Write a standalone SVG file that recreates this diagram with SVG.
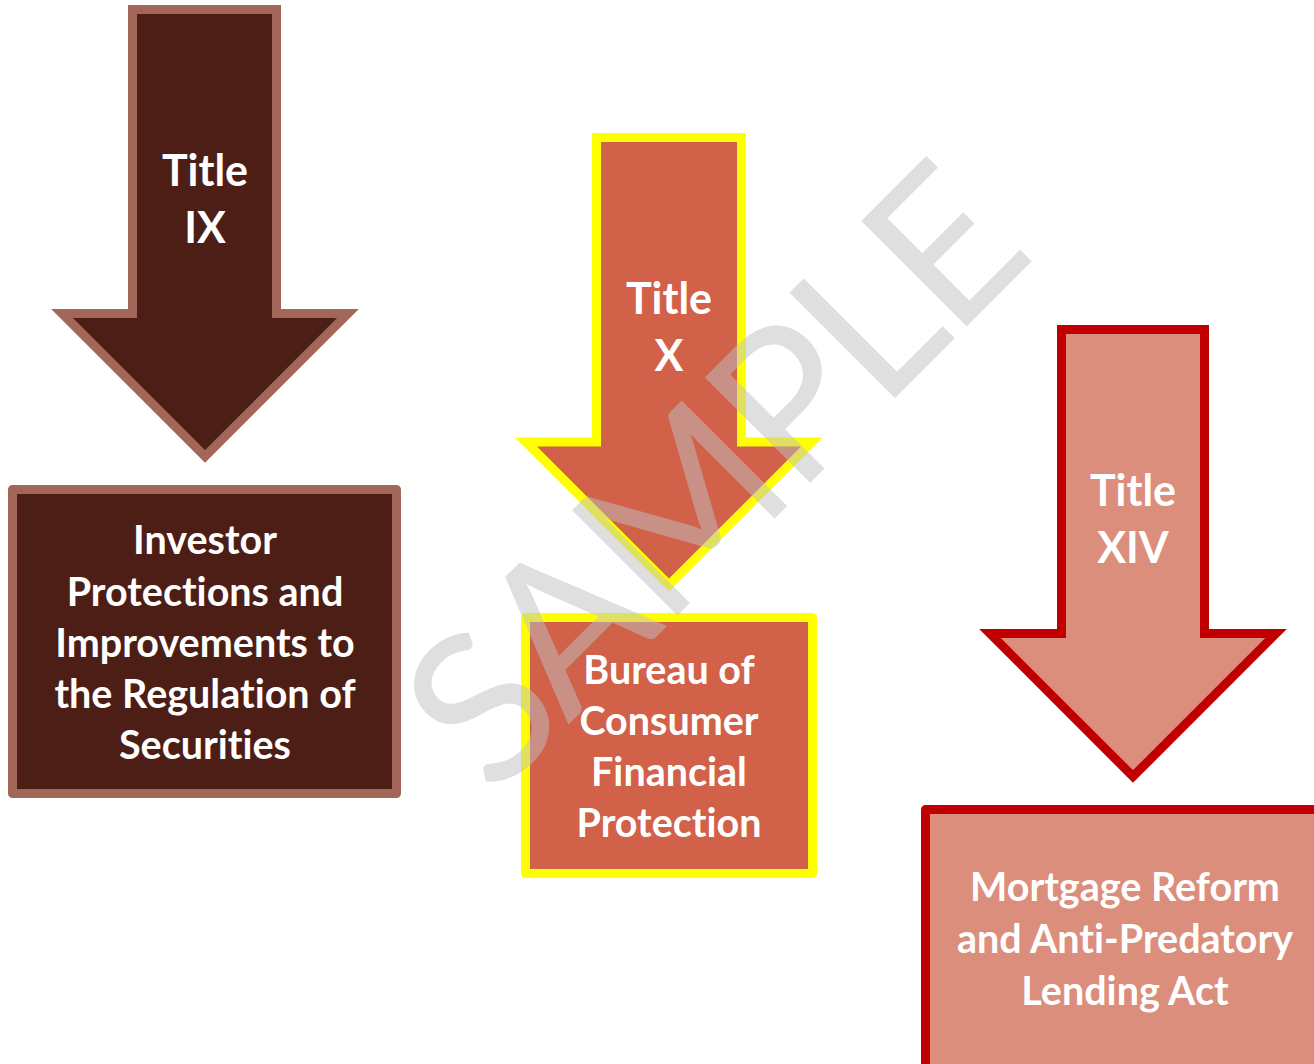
<svg xmlns="http://www.w3.org/2000/svg" width="1314" height="1064" viewBox="0 0 1314 1064">
<style>
  text { font-variant-ligatures: none; font-feature-settings: "liga" 0, "clig" 0; }
  .lbl { font-family: Lato, "Open Sans", "Liberation Sans", sans-serif; font-weight: 700; fill: #FFFFFF; text-anchor: middle; font-size: 39.5px; }
  .ttl { font-family: Lato, "Open Sans", "Liberation Sans", sans-serif; font-weight: 700; fill: #FFFFFF; text-anchor: middle; font-size: 43px; }
  .arrow { stroke-width: 9; stroke-linejoin: miter; }
  .box { stroke-width: 9; stroke-linejoin: round; }
  .brown { fill: #4C1E15; stroke: #A3675A; }
  .orange { fill: #D2614A; stroke: #FFFF00; }
  .pink { fill: #DC8E7C; stroke: #C00000; }
  .wm { font-family: Lato, "Open Sans", "Liberation Sans", sans-serif; font-weight: 400; fill: #C0C0C0; fill-opacity: 0.5; text-anchor: middle; font-size: 208px; }
</style>
<rect width="1314" height="1064" fill="#FFFFFF"/>
<g id="connectors"/>
<g id="arrow-title-ix">
  <polygon class="arrow brown" points="132.5,9.5 276.5,9.5 276.5,313.5 348,313.5 205,456.5 62,313.5 132.5,313.5"/>
  <text class="ttl" x="205" y="186">Title</text>
  <text class="ttl" x="205" y="243">IX</text>
</g>
<g id="box-ix">
  <rect class="box brown" x="12.5" y="489.5" width="384" height="304"/>
  <text class="lbl" x="205" y="554">Investor</text>
  <text class="lbl" x="205" y="605.5">Protections and</text>
  <text class="lbl" x="205" y="657">Improvements to</text>
  <text class="lbl" x="205" y="708">the Regulation of</text>
  <text class="lbl" x="205" y="759">Securities</text>
</g>
<g id="arrow-title-x">
  <polygon class="arrow orange" points="596.5,137.5 741.5,137.5 741.5,442 812,442 669,585 526,442 596.5,442"/>
  <text class="ttl" x="669" y="314">Title</text>
  <text class="ttl" x="669" y="371">X</text>
</g>
<g id="box-x">
  <rect class="box orange" x="525.5" y="617.5" width="287" height="256"/>
  <text class="lbl" x="669" y="684">Bureau of</text>
  <text class="lbl" x="669" y="735">Consumer</text>
  <text class="lbl" x="669" y="786">Financial</text>
  <text class="lbl" x="669" y="836.5">Protection</text>
</g>
<g id="arrow-title-xiv">
  <polygon class="arrow pink" points="1061.5,329.5 1204.5,329.5 1204.5,633.5 1276,633.5 1133,776.5 990,633.5 1061.5,633.5"/>
  <text class="ttl" x="1133" y="506">Title</text>
  <text class="ttl" x="1133" y="563">XIV</text>
</g>
<g id="box-xiv">
  <rect class="box pink" x="925.5" y="809.5" width="408" height="300"/>
  <text class="lbl" x="1125" y="901">Mortgage Reform</text>
  <text class="lbl" x="1125" y="953">and Anti-Predatory</text>
  <text class="lbl" x="1125" y="1004.5">Lending Act</text>
</g>
<g id="watermark">
  <text class="wm" transform="translate(766,527) rotate(-45)" x="0" y="0" textLength="770" lengthAdjust="spacing">SAMPLE</text>
</g>
</svg>
